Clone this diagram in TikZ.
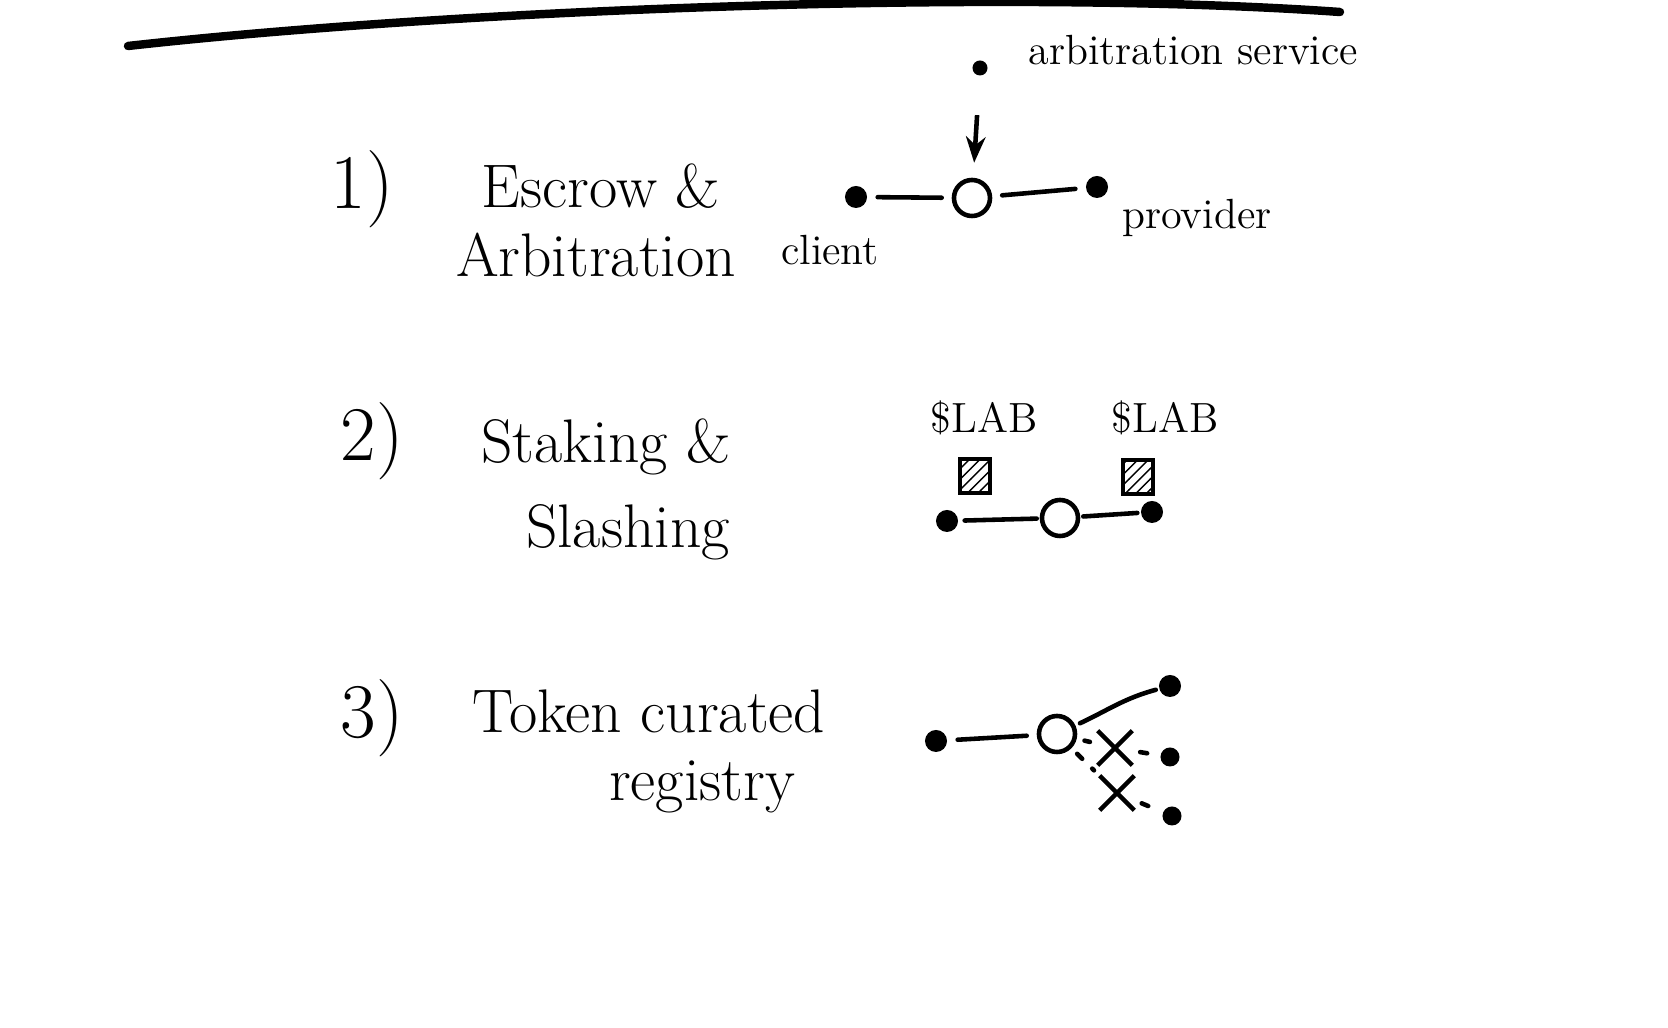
\documentclass[tikz,border=0pt]{standalone}
\usetikzlibrary{arrows.meta,positioning,shapes.misc,patterns}
\tikzset{
  >={Stealth[length=2.6mm]},
  dot/.style={circle,fill=black,inner sep=0pt,minimum size=#1},
  dot/.default=2.2mm,
  hub/.style={circle,draw,line width=1.3pt,inner sep=0pt,minimum size=3.6mm},
  link/.style={line width=1.3pt,line cap=round,shorten <=1mm,shorten >=1mm},
  dots/.style={link,dash pattern=on 2pt off 4pt},
  num/.style={font=\fontsize{22}{26}\selectfont},
  title/.style={font=\fontsize{17.5}{21}\selectfont,align=left},
  tag/.style={font=\large},
  coin/.style={draw,line width=1.2pt,pattern=north east lines,minimum width=3mm,
    minimum height=3.4mm,inner sep=0pt},
  nope/.style={cross out,draw,line width=1.3pt,minimum size=3mm,inner sep=0pt},
}
\begin{document}
\begin{tikzpicture}[x=0.01cm,y=-0.01cm]
  \useasboundingbox (0,0) rectangle (1668,1028);
  % heading stroke
  \draw[line width=2.4pt,line cap=round] (128,46) .. controls (450,10) and (1000,-12) .. (1340,12);

  % 1) escrow
  \node[num] (n1) at (362,189) {1)};
  \node[title] (t1a) at (601,186) {Escrow \&};
  \node[title] (t1b) at (596,255) {Arbitration};
  \node[dot] (client) at (856,197) {};
  \node[hub] (h1) at (972,198) {};
  \node[dot] (provider) at (1097,187) {};
  \node[dot=1.5mm] (arb) at (980,68) {};
  \node[tag,anchor=west] (arbl) at (1016,50) {arbitration service};
  \node[tag] (clientl) at (830,250) {client};
  \node[tag] (providerl) at (1197,218) {provider};
  \draw[link] (client) -- (h1);
  \draw[link] (h1) -- (provider);
  \draw[->,line width=1.3pt,shorten <=3.9mm,shorten >=1.5mm] (arb) -- (h1);

  % 2) staking
  \node[num] (n2) at (372,441) {2)};
  \node[title] (t2a) at (606,447) {Staking \&};
  \node[title] (t2b) at (628,532) {Slashing};
  \node[dot] (s1) at (947,521) {};
  \node[hub] (h2) at (1060,518) {};
  \node[dot] (s2) at (1152,512) {};
  \node[tag] (lab1) at (984,418) {\$LAB};
  \node[tag] (lab2) at (1165,418) {\$LAB};
  \node[coin] (c1) at (975,476) {};
  \node[coin] (c2) at (1138,477) {};
  \draw[link,shorten <=0.6mm,shorten >=0.3mm] (s1) -- (h2);
  \draw[link,shorten <=0.3mm,shorten >=0.3mm] (h2) -- (s2);

  % 3) registry
  \node[num] (n3) at (372,718) {3)};
  \node[title] (t3a) at (649,711) {Token curated};
  \node[title] (t3b) at (702,787) {registry};
  \node[dot] (r0) at (936,741) {};
  \node[hub] (h3) at (1057,734) {};
  \node[dot] (r1) at (1170,686) {};
  \node[dot=1.9mm] (r2) at (1170,757) {};
  \node[dot=1.9mm] (r3) at (1172,816) {};
  \node[nope] (x1) at (1115,748) {};
  \node[nope] (x2) at (1117,793) {};
  \draw[link] (r0) -- (h3);
  \draw[link,shorten >=0.3mm,shorten <=0.5mm] (h3) to[out=25,in=195] (r1);
  \draw[dots,shorten <=0.8mm,shorten >=0.8mm] (h3) -- (x1);
  \draw[dots,shorten <=0.8mm,shorten >=0.8mm] (x1) -- (r2);
  \draw[dots,shorten <=0.8mm,shorten >=0.8mm] (h3) -- (x2);
  \draw[dots,shorten <=0.8mm,shorten >=0.8mm] (x2) -- (r3);
\end{tikzpicture}
\end{document}
